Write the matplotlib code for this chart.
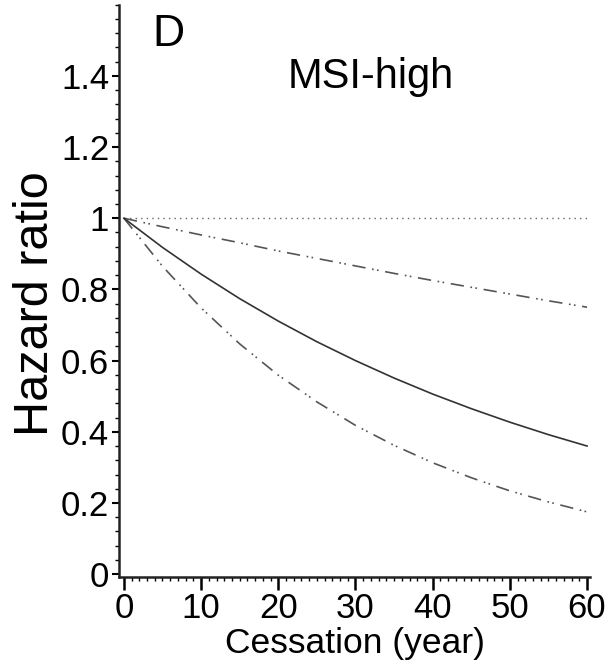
import matplotlib
matplotlib.use("Agg")
import matplotlib.pyplot as plt
from matplotlib.ticker import MultipleLocator

years = [0, 5, 10, 15, 20, 25, 30, 35, 40, 45, 50, 55, 60]
hr_est = [1.0, 0.918, 0.843, 0.774, 0.711, 0.653, 0.600, 0.551, 0.506, 0.465, 0.427, 0.392, 0.360]
hr_upper = [1.0, 0.976, 0.953, 0.931, 0.908, 0.887, 0.866, 0.845, 0.825, 0.806, 0.787, 0.768, 0.750]
hr_lower = [1.0, 0.865, 0.748, 0.647, 0.559, 0.484, 0.418, 0.362, 0.313, 0.271, 0.234, 0.203, 0.175]
ref_x = [0, 60]
ref_y = [1.0, 1.0]
xticks = [0, 10, 20, 30, 40, 50, 60]
yticks = [0, 0.2, 0.4, 0.6, 0.8, 1.0, 1.2, 1.4]
ytick_labels = ["0", "0.2", "0.4", "0.6", "0.8", "1", "1.2", "1.4"]

plt.rcParams['font.family'] = ['Liberation Sans', 'DejaVu Sans']

fig = plt.figure(figsize=(6.16, 6.64), dpi=100)
ax = fig.add_axes([0.193, 0.131, 0.765, 0.862])

ax.plot(ref_x, ref_y, color='#666666', lw=1.0, linestyle=(0, (1, 3)))
ax.plot(years, hr_upper, color='#555555', lw=1.2, linestyle=(0, (8, 4, 1, 2, 1, 4)))
ax.plot(years, hr_lower, color='#555555', lw=1.2, linestyle=(0, (8, 4, 1, 2, 1, 4)))
ax.plot(years, hr_est, color='#333333', lw=1.2, linestyle='-')

ax.set_xlim(-0.65, 60.4)
ax.set_ylim(-0.008, 1.6)

for s in ['top', 'right']:
    ax.spines[s].set_visible(False)
for s in ['left', 'bottom']:
    ax.spines[s].set_linewidth(1.8)
    ax.spines[s].set_color('#222222')

ax.set_xticks(xticks)
ax.set_yticks(yticks)
ax.set_yticklabels(ytick_labels)
ax.xaxis.set_minor_locator(MultipleLocator(1))
ax.yaxis.set_minor_locator(MultipleLocator(0.04))
ax.tick_params(axis='x', which='major', direction='out', length=9, width=1.8, labelsize=25, pad=2)
ax.tick_params(axis='x', which='minor', direction='out', length=3, width=1.0)
ax.tick_params(axis='y', which='major', direction='out', length=5, width=1.5, labelsize=25, pad=2)
ax.tick_params(axis='y', which='minor', direction='out', length=3, width=1.0)

ax.set_xlabel('Cessation (year)', fontsize=25.5, va='baseline')
ax.xaxis.set_label_coords(0.5, -0.132)
ax.set_ylabel('Hazard ratio', fontsize=35, va='baseline')
ax.yaxis.set_label_coords(-0.151, 0.478)

fig.text(0.248, 0.93, 'D', fontsize=32, ha='left', va='baseline')
fig.text(0.602, 0.8675, 'MSI-high', fontsize=30, ha='center', va='baseline')

fig.savefig('out.png', dpi=100)
